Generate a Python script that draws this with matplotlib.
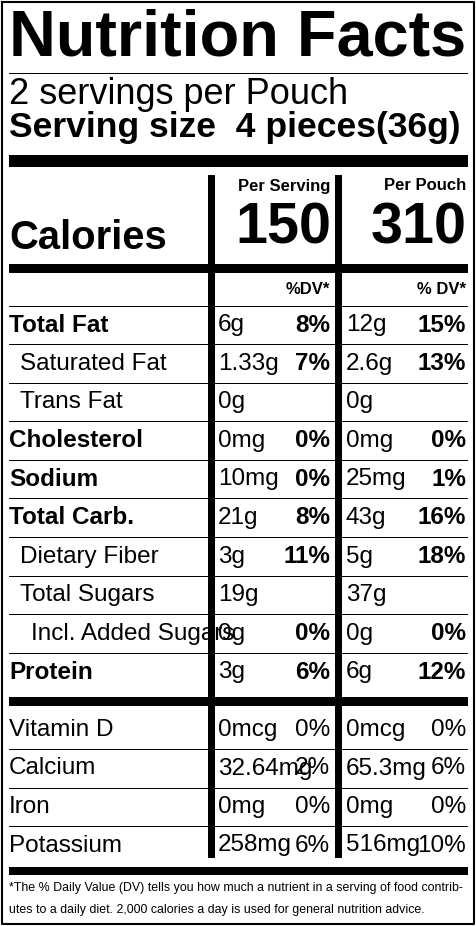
import matplotlib
matplotlib.use('Agg')
import matplotlib.pyplot as plt

plt.rcParams['font.family'] = ['Liberation Sans Narrow', 'Liberation Sans', 'DejaVu Sans']
WIDE = ['Liberation Sans', 'DejaVu Sans']

W, H = 477, 926
servings_text = '2 servings per Pouch'
serving_size = 'Serving size  4 pieces(36g)'
cal_serving, cal_pouch = '150', '310'

rows = ['Total Fat', 'Saturated Fat', 'Trans Fat', 'Cholesterol', 'Sodium',
        'Total Carb.', 'Dietary Fiber', 'Total Sugars', 'Incl. Added Sugars', 'Protein']
bold_rows = [True, False, False, True, True, True, False, False, False, True]
indent = [0, 1, 1, 0, 0, 0, 1, 1, 2, 0]
amt1 = ['6g', '1.33g', '0g', '0mg', '10mg', '21g', '3g', '19g', '0g', '3g']
dv1 = ['8%', '7%', '', '0%', '0%', '8%', '11%', '', '0%', '6%']
amt2 = ['12g', '2.6g', '0g', '0mg', '25mg', '43g', '5g', '37g', '0g', '6g']
dv2 = ['15%', '13%', '', '0%', '1%', '16%', '18%', '', '0%', '12%']

vit_rows = ['Vitamin D', 'Calcium', 'Iron', 'Potassium']
vit_amt1 = ['0mcg', '32.64mg', '0mg', '258mg']
vit_dv1 = ['0%', '2%', '0%', '6%']
vit_amt2 = ['0mcg', '65.3mg', '0mg', '516mg']
vit_dv2 = ['0%', '6%', '0%', '10%']

foot1 = '*The % Daily Value (DV) tells you how much a nutrient in a serving of food contrib-'
foot2 = 'utes to a daily diet. 2,000 calories a day is used for general nutrition advice.'

fig = plt.figure(figsize=(W / 100, H / 100), dpi=100)
ax = fig.add_axes([0, 0, 1, 1])
ax.set_xlim(0, W)
ax.set_ylim(H, 0)
ax.axis('off')
renderer = fig.canvas.get_renderer()


def fit(t, width):
    # scale the font so the text spans the given pixel width
    bb = t.get_window_extent(renderer)
    t.set_fontsize(t.get_fontsize() * width / bb.width)


def hline(y0, y1, x0=9, x1=468):
    ax.fill_between([x0, x1], y0, y1, color='black', lw=0)


def vline(x0, x1, y0, y1):
    ax.fill_betweenx([y0, y1], x0, x1, color='black', lw=0)


# frame
ax.plot([2, 474, 474, 2, 2], [2, 2, 924, 924, 2], color='black', lw=1.5)

t = ax.text(9, 38, 'Nutrition Facts', fontsize=40, fontweight='bold', va='center', ha='left')
fit(t, 457)
hline(72.5, 74)
t = ax.text(9, 95, servings_text, fontsize=18, va='center', family=WIDE)
fit(t, 340)
t = ax.text(9, 128, serving_size, fontsize=18, fontweight='bold', va='center', family=WIDE)
fit(t, 452)
hline(155, 167)

# column lines
vline(208, 215, 175, 858)
vline(335, 342, 175, 858)

ax.text(330, 186, 'Per Serving', fontsize=12, fontweight='bold', ha='right', va='center')
ax.text(466, 186, 'Per Pouch', fontsize=12, fontweight='bold', ha='right', va='center')
t = ax.text(9, 238, 'Calories', fontsize=30, fontweight='bold', ha='left', va='center')
fit(t, 158)
t = ax.text(331, 228, cal_serving, fontsize=44, fontweight='bold', ha='right', va='center')
fit(t, 96)
t = ax.text(467, 228, cal_pouch, fontsize=44, fontweight='bold', ha='right', va='center')
fit(t, 96)
hline(264, 273)
ax.text(330, 289, '%DV*', fontsize=12, fontweight='bold', ha='right', va='center')
ax.text(466, 289, '% DV*', fontsize=12, fontweight='bold', ha='right', va='center')
hline(305.5, 306.5)

fs = 17.5
row_h = 38.6
y = 325
for i, name in enumerate(rows):
    yc = y + i * row_h
    w = 'bold' if bold_rows[i] else 'normal'
    ax.text(9 + 11 * indent[i], yc, name, fontsize=fs, fontweight=w, va='center')
    ax.text(218, yc, amt1[i], fontsize=fs, va='center')
    ax.text(330, yc, dv1[i], fontsize=fs, fontweight='bold', ha='right', va='center')
    ax.text(346, yc, amt2[i], fontsize=fs, va='center')
    ax.text(466, yc, dv2[i], fontsize=fs, fontweight='bold', ha='right', va='center')
    if i < len(rows) - 1:
        hline(yc + 19, yc + 20)
hline(697, 706)

for i, name in enumerate(vit_rows):
    yc = 730 + i * 38.5
    ax.text(9, yc, name, fontsize=fs, va='center')
    ax.text(218, yc, vit_amt1[i], fontsize=fs, va='center')
    ax.text(330, yc, vit_dv1[i], fontsize=fs, ha='right', va='center')
    ax.text(346, yc, vit_amt2[i], fontsize=fs, va='center')
    ax.text(466, yc, vit_dv2[i], fontsize=fs, ha='right', va='center')
    if i < len(vit_rows) - 1:
        hline(yc + 19, yc + 20)
hline(867, 875)

t = ax.text(9, 888, foot1, fontsize=10, va='center')
fit(t, 454)
t = ax.text(9, 910, foot2, fontsize=t.get_fontsize(), va='center')

fig.savefig('out.png', dpi=100)
